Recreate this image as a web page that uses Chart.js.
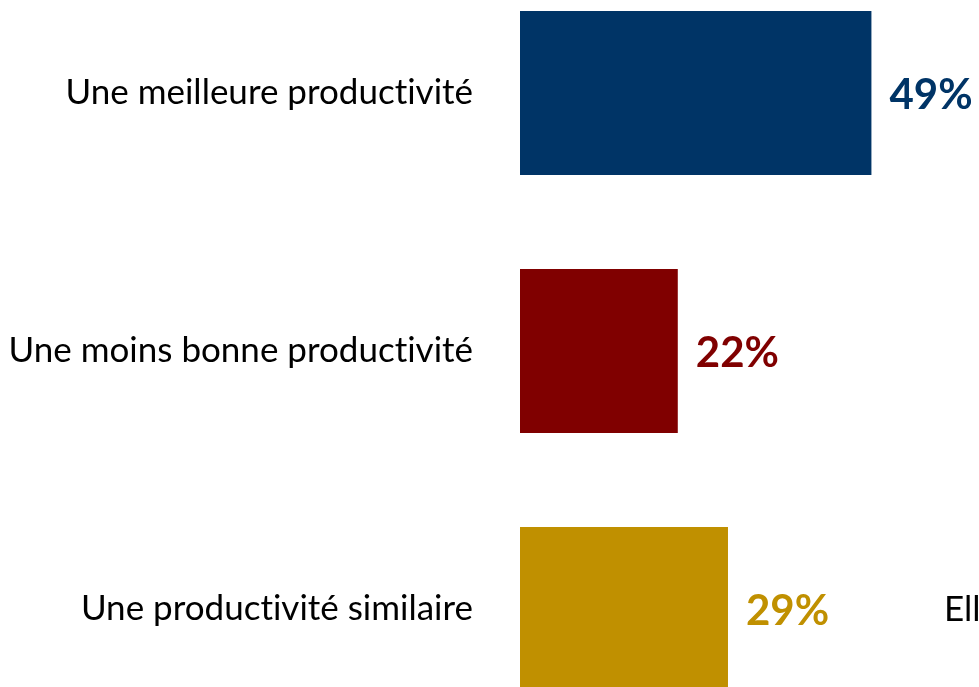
<!DOCTYPE html>
<html>
<head>
<meta charset="utf-8">
<script src="https://cdn.jsdelivr.net/npm/chart.js@4"></script>
<style>
  html, body { margin: 0; padding: 0; background: #fff; overflow: hidden; }
  body { width: 979px; height: 687px; position: relative; }
  #chart { position: absolute; left: 0; top: -36px; }
</style>
</head>
<body>
<canvas id="chart" width="979" height="774"></canvas>
<script>
// data
const categories = ["Une meilleure productivité", "Une moins bonne productivité", "Une productivité similaire"];
const values = [49, 22, 29];
const barColors = ["#003466", "#800000", "#C09000"];
const sideText = "Elle";

// no ligatures, closer to the original text
const plainText = {
  id: "plainText",
  beforeDraw(chart) { chart.ctx.textRendering = "optimizeSpeed"; }
};

// value labels next to each bar
const valueLabels = {
  id: "valueLabels",
  afterDatasetsDraw(chart) {
    const ctx = chart.ctx;
    const meta = chart.getDatasetMeta(0);
    ctx.save();
    ctx.font = "bold 42px Lato";
    ctx.textBaseline = "middle";
    ctx.textAlign = "left";
    meta.data.forEach((bar, i) => {
      ctx.fillStyle = barColors[i];
      ctx.fillText(values[i] + "%", bar.x + 18, bar.y + 2);
    });
    // cut off text on the right side
    ctx.fillStyle = "#000";
    ctx.font = "35px Lato";
    ctx.fillText(sideText, 944, meta.data[2].y + 1);
    ctx.restore();
  }
};

new Chart(document.getElementById("chart"), {
  type: "bar",
  data: {
    labels: categories,
    datasets: [{
      data: values,
      backgroundColor: barColors,
      borderWidth: 0,
      categoryPercentage: 1,
      barPercentage: 0.636
    }]
  },
  options: {
    indexAxis: "y",
    responsive: false,
    animation: false,
    layout: { padding: 0 },
    plugins: { legend: { display: false }, tooltip: { enabled: false } },
    scales: {
      x: { display: false, min: 0, max: 64 },
      y: {
        grid: { display: false, drawTicks: false },
        border: { display: false },
        ticks: { color: "#000", font: { family: "Lato", size: 35 }, padding: 47 },
        afterFit: (scale) => {
          scale.width = 520;
          scale.paddingTop = 0;
          scale.paddingBottom = 0;
        }
      }
    }
  },
  plugins: [plainText, valueLabels]
});
</script>
</body>
</html>
